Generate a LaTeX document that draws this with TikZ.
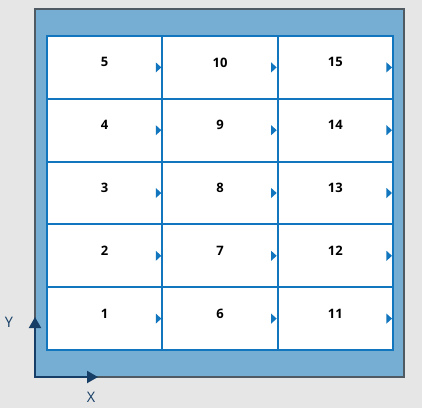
\documentclass[tikz,border=0pt]{standalone}
\usepackage{fontspec}
\setmainfont{Open Sans}
\usetikzlibrary{arrows.meta}
\definecolor{bgc}{HTML}{E6E6E6}
\definecolor{panel}{HTML}{75AED2}
\definecolor{panelborder}{HTML}{4F5A62}
\definecolor{gridblue}{HTML}{1276BE}
\definecolor{axisnavy}{HTML}{163E66}
\tikzset{
  cellbox/.style={minimum width=115.33pt, minimum height=62.8pt, inner sep=0pt, outer sep=0pt},
  gridline/.style={draw=gridblue, line width=2pt},
  numlabel/.style={font=\fontsize{13}{15}\selectfont\bfseries, text=black, inner sep=0pt},
  marker/.style={fill=gridblue, draw=none},
  axisline/.style={draw=axisnavy, line width=2pt, -{Triangle[length=11pt,width=12pt]}},
  axislabel/.style={font=\fontsize{14.5}{16}\selectfont, text=axisnavy, inner sep=0pt}
}
\begin{document}
\begin{tikzpicture}[x=1pt,y=-1pt]
\useasboundingbox (0,0) rectangle (422,408);
\fill[bgc] (0,0) rectangle (422,408);
\draw[panelborder, line width=2pt, fill=panel] (35,9) rectangle (404,377);
\foreach \c in {0,1,2}{
  \foreach \r in {1,...,5}{
    \pgfmathtruncatemacro{\k}{\c*5+\r}
    \pgfmathsetmacro{\cx}{47+115.33*(\c+0.5)}
    \pgfmathsetmacro{\cy}{350-62.8*(\r-0.5)}
    \node[cellbox] (c\k) at (\cx,\cy) {};
  }
}
\fill[white] (c1.south west) rectangle (c15.north east);
% horizontal grid lines
\foreach \k in {1,2,3,4}{
  \pgfmathtruncatemacro{\j}{\k+10}
  \draw[gridline] (c\k.north west) -- (c\j.north east);
}
% vertical grid lines
\draw[gridline] (c5.north east) -- (c1.south east);
\draw[gridline] (c10.north east) -- (c6.south east);
\draw[gridline] (c1.south west) rectangle (c15.north east);
\foreach \k in {1,...,15}{
  \node[numlabel] (n\k) at ([yshift=5pt]c\k.center) {\k};
  \fill[marker] ([xshift=-6.5pt,yshift=5pt]c\k.east) -- ([xshift=-1pt]c\k.east) -- ([xshift=-6.5pt,yshift=-5pt]c\k.east) -- cycle;
}
\coordinate (origin) at (35,377);
\coordinate (ytip) at (35,317);
\coordinate (xtip) at (98,377);
\draw[axisline] (origin) -- (ytip);
\draw[axisline] ([xshift=-1pt]origin) -- (xtip);
\node[axislabel] (ylab) at (9,322) {Y};
\node[axislabel] (xlab) at (91,397) {X};
\end{tikzpicture}
\end{document}
